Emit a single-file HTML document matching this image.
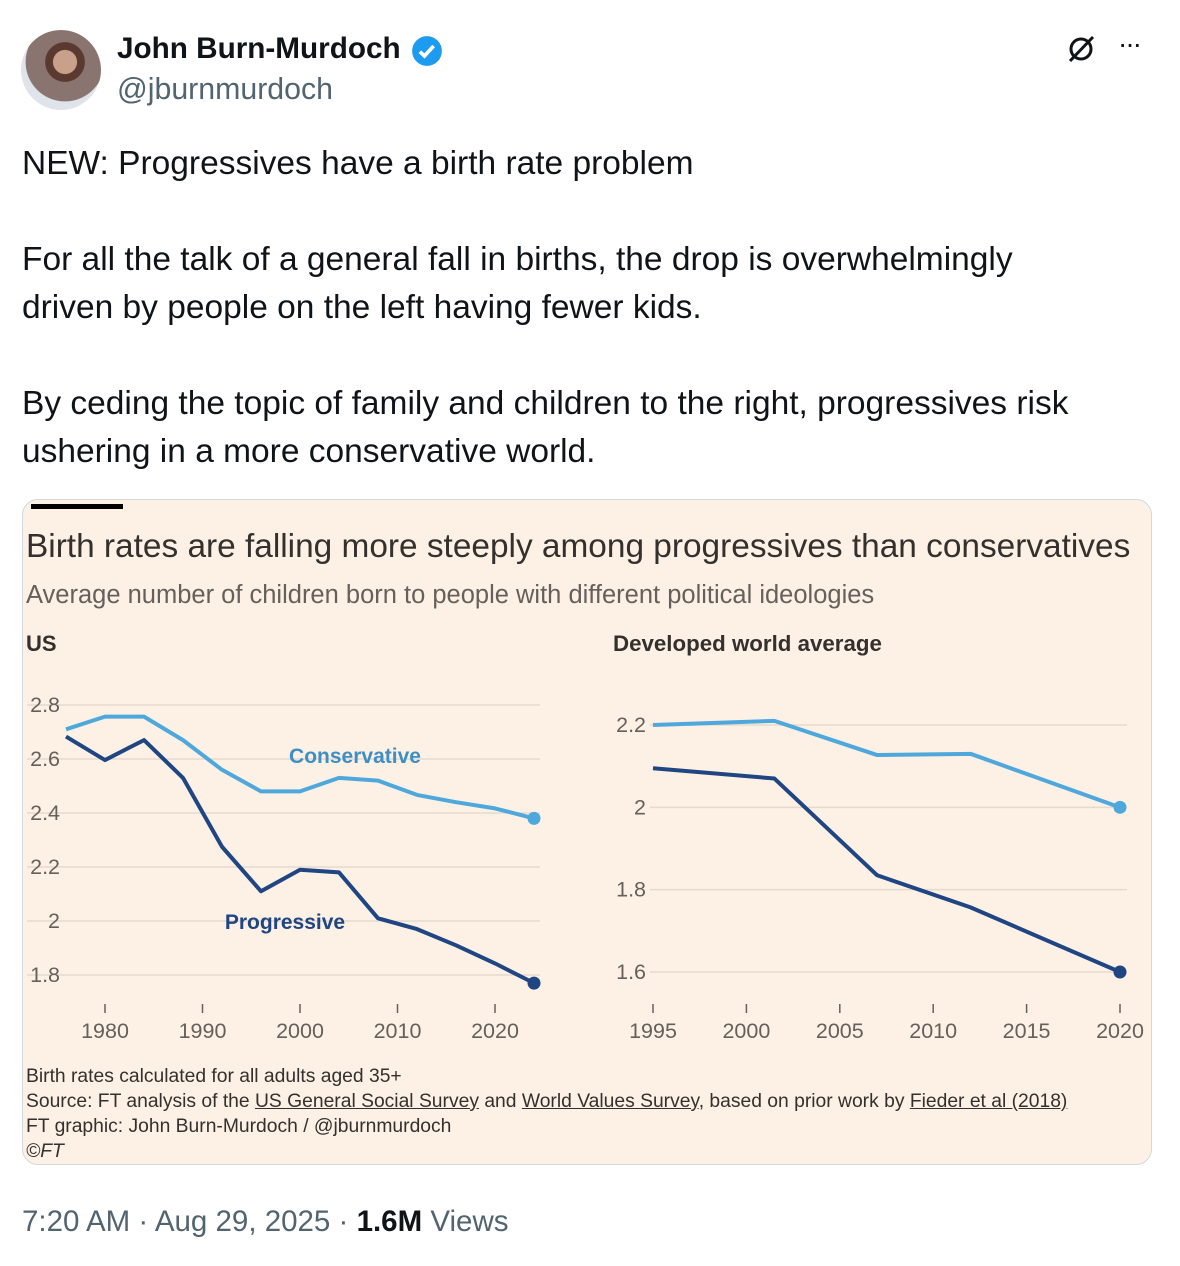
<!DOCTYPE html>
<html><head><meta charset="utf-8"><style>
body{margin:0;width:1180px;height:1266px;background:#fff;font-family:"Liberation Sans",sans-serif;position:relative;overflow:hidden}
.a{position:absolute;white-space:nowrap}
</style></head><body>
<div class="a" style="left:21px;top:30px;width:80px;height:80px;border-radius:50%;background:radial-gradient(circle at 55% 40%,#c9a08a 0 18%,#5a3a30 19% 30%,#8a7470 31% 60%,#dfe3ea 61%);"></div>
<div class="a" style="left:117px;top:32px;font-size:29.7px;font-weight:bold;color:#0f1419">John Burn-Murdoch</div>
<svg class="a" style="left:410px;top:34px" width="34" height="34" viewBox="0 0 24 24"><circle cx="12" cy="12" r="10.5" fill="#1d9bf0"/><path d="M7 12.5l3.2 3 6.5-7" stroke="#fff" stroke-width="2.6" fill="none"/></svg>
<div class="a" style="left:117px;top:73px;font-size:30.3px;color:#536471">@jburnmurdoch</div>
<svg class="a" style="left:1064px;top:32px" width="34" height="34" viewBox="0 0 34 34"><circle cx="17" cy="17" r="10" stroke="#0f1419" stroke-width="3" fill="none"/><line x1="6" y1="29" x2="29" y2="5" stroke="#0f1419" stroke-width="3"/></svg>
<div class="a" style="left:1118px;top:28px;font-size:28px;color:#0f1419;letter-spacing:-2px">···</div>
<div class="a" style="left:22px;top:140px;font-size:33.5px;line-height:48px;color:#0f1419;white-space:normal;width:1080px">NEW: Progressives have a birth rate problem<br><br>For all the talk of a general fall in births, the drop is overwhelmingly driven by people on the left having fewer kids.<br><br>By ceding the topic of family and children to the right, progressives risk ushering in a more conservative world.</div>
<div class="a" style="left:22px;top:499px;width:1128px;height:664px;background:#fdf1e5;border:1px solid #cfd9de;border-radius:16px;overflow:hidden">
<div class="a" style="left:8px;top:4px;width:92px;height:5px;background:#000"></div>
</div>
<div class="a" style="left:26px;top:528px;font-size:33.4px;color:#33302e">Birth rates are falling more steeply among progressives than conservatives</div>
<div class="a" style="left:26px;top:581px;font-size:25.5px;color:#66605c">Average number of children born to people with different political ideologies</div>
<div class="a" style="left:26px;top:631px;font-size:22px;font-weight:bold;color:#33302e">US</div>
<div class="a" style="left:613px;top:631px;font-size:22.3px;font-weight:bold;color:#33302e">Developed world average</div>
<svg class="a" id="ch" style="left:0;top:0" width="1180" height="1266"></svg>
<div class="a" style="left:26px;top:1064px;font-size:19.3px;line-height:25px;color:#33302e">Birth rates calculated for all adults aged 35+<br>Source: FT analysis of the <u>US General Social Survey</u> and <u>World Values Survey</u>, based on prior work by <u>Fieder et al (2018)</u><br>FT graphic: John Burn-Murdoch / @jburnmurdoch<br><i>©FT</i></div>
<div class="a" style="left:22px;top:1205px;font-size:29.5px;color:#536471">7:20 AM · Aug 29, 2025 · <b style="color:#0f1419">1.6M</b> Views</div>
<script>
const usYears=[1976,1980,1984,1988,1992,1996,2000,2004,2008,2012,2016,2020,2024];
const usCons=[2.71,2.757,2.757,2.67,2.56,2.48,2.48,2.53,2.52,2.467,2.44,2.417,2.38];
const usProg=[2.683,2.596,2.67,2.53,2.275,2.11,2.19,2.18,2.01,1.97,1.91,1.843,1.77];
const usYTicks=[1.8,2,2.2,2.4,2.6,2.8];
const usXTicks=[1980,1990,2000,2010,2020];
const dwYears=[1995,2001.5,2007,2012,2020];
const dwCons=[2.2,2.21,2.127,2.13,2.0];
const dwProg=[2.095,2.07,1.835,1.757,1.6];
const dwYTicks=[1.6,1.8,2,2.2];
const dwXTicks=[1995,2000,2005,2010,2015,2020];
const NS="http://www.w3.org/2000/svg",svg=document.getElementById('ch');
function mk(t,a,txt){const e=document.createElementNS(NS,t);for(const k in a)e.setAttribute(k,a[k]);if(txt!==undefined)e.textContent=txt;svg.appendChild(e);return e;}
const usX=y=>105+(y-1980)*9.75, usY=v=>705+(2.8-v)*270;
const dwX=y=>653+(y-1995)*18.68, dwY=v=>725+(2.2-v)*411.7;
function panel(p,xf,yf,yt,xt,gx1,gx2,lx,years,cons,prog){
  yt.forEach(v=>{
    const g=mk('line',{x1:gx1,x2:gx2,y1:yf(v),y2:yf(v),stroke:'#e6d9ce','stroke-width':1.5});
    
    const t=mk('text',{x:lx,y:yf(v)+7,'text-anchor':'end','font-size':21.5,fill:'#66605c','font-family':'Liberation Sans'},String(v));
    
  });
  xt.forEach(y=>{
    const k=mk('line',{x1:xf(y),x2:xf(y),y1:1004,y2:1013,stroke:'#66605c','stroke-width':1.5});
    
    const t=mk('text',{x:xf(y),y:1038,'text-anchor':'middle','font-size':21.5,fill:'#66605c','font-family':'Liberation Sans'},String(y));
    
  });
  [[cons,'#4fa8dc','conservative'],[prog,'#1f4582','progressive']].forEach(([s,c,n])=>{
    const pts=years.map((y,i)=>xf(y)+','+yf(s[i])).join(' ');
    const l=mk('polyline',{points:pts,fill:'none',stroke:c,'stroke-width':4,'stroke-linejoin':'round'});
    
    const last=s.length-1;
    const d=mk('circle',{cx:xf(years[last]),cy:yf(s[last]),r:6.5,fill:c});
    
  });
}
panel('us',usX,usY,usYTicks,usXTicks,27,540,60,usYears,usCons,usProg);
panel('dw',dwX,dwY,dwYTicks,dwXTicks,650,1127,646,dwYears,dwCons,dwProg);
const a=mk('text',{x:355,y:763,'text-anchor':'middle','font-size':21,fill:'#3d8fc4','font-family':'Liberation Sans','font-weight':'bold'},'Conservative');

const b=mk('text',{x:285,y:929,'text-anchor':'middle','font-size':21,fill:'#1f4582','font-family':'Liberation Sans','font-weight':'bold'},'Progressive');

</script>
</body></html>
